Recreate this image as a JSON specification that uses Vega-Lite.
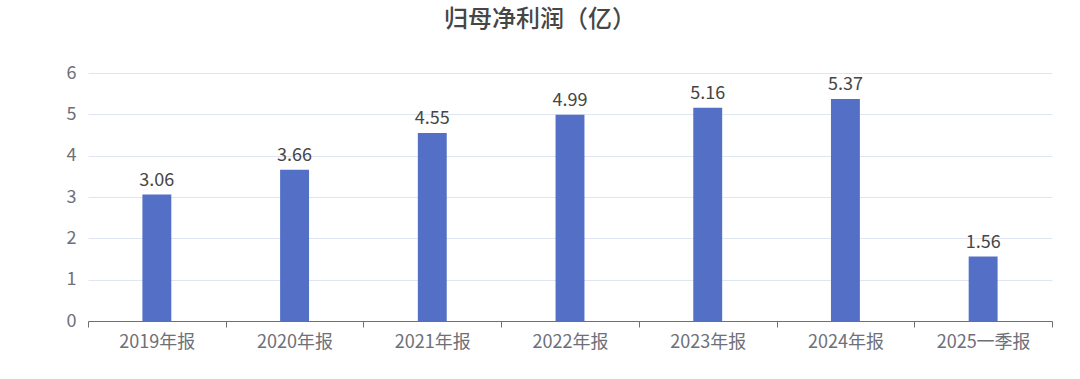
{
  "$schema": "https://vega.github.io/schema/vega-lite/v6.json",
  "width": 964,
  "height": 248,
  "autosize": {"type": "none"},
  "padding": {"left": 88, "top": 73, "right": 28, "bottom": 58},
  "background": "white",
  "title": {
    "text": "归母净利润（亿）",
    "font": "Noto Sans CJK SC",
    "fontSize": 24,
    "fontWeight": 500,
    "color": "#464646",
    "anchor": "middle",
    "dx": -30,
    "offset": 32
  },
  "data": {
    "values": [
      {"period": "2019年报", "value": 3.06},
      {"period": "2020年报", "value": 3.66},
      {"period": "2021年报", "value": 4.55},
      {"period": "2022年报", "value": 4.99},
      {"period": "2023年报", "value": 5.16},
      {"period": "2024年报", "value": 5.37},
      {"period": "2025一季报", "value": 1.56}
    ]
  },
  "config": {
    "view": {"stroke": null},
    "font": "Noto Sans CJK SC"
  },
  "encoding": {
    "x": {
      "field": "period",
      "type": "nominal",
      "sort": null,
      "scale": {"paddingInner": 0, "paddingOuter": 0},
      "axis": {
        "title": null,
        "labelAngle": 0,
        "labelFont": "Noto Sans CJK SC",
        "labelFontSize": 18,
        "labelColor": "#6e7079",
        "labelPadding": 6,
        "domainColor": "#6e7079",
        "domainWidth": 1,
        "tickColor": "#6e7079",
        "tickSize": 6,
        "tickBand": "extent",
        "grid": false
      }
    },
    "y": {
      "field": "value",
      "type": "quantitative",
      "scale": {"domain": [0, 6], "nice": false},
      "axis": {
        "title": null,
        "values": [0, 1, 2, 3, 4, 5, 6],
        "labelFont": "Noto Sans CJK SC",
        "labelFontSize": 18,
        "labelColor": "#6e7079",
        "labelPadding": 12,
        "domain": false,
        "ticks": false,
        "grid": true,
        "gridColor": "#e0e6f1",
        "gridWidth": 1
      }
    }
  },
  "layer": [
    {
      "mark": {"type": "bar", "color": "#5470c6", "width": {"band": 0.21}}
    },
    {
      "mark": {
        "type": "text",
        "baseline": "alphabetic",
        "dy": -9,
        "fontSize": 18,
        "font": "Noto Sans CJK SC",
        "color": "#464646"
      },
      "encoding": {
        "text": {"field": "value", "type": "quantitative", "format": ".2f"}
      }
    }
  ]
}
